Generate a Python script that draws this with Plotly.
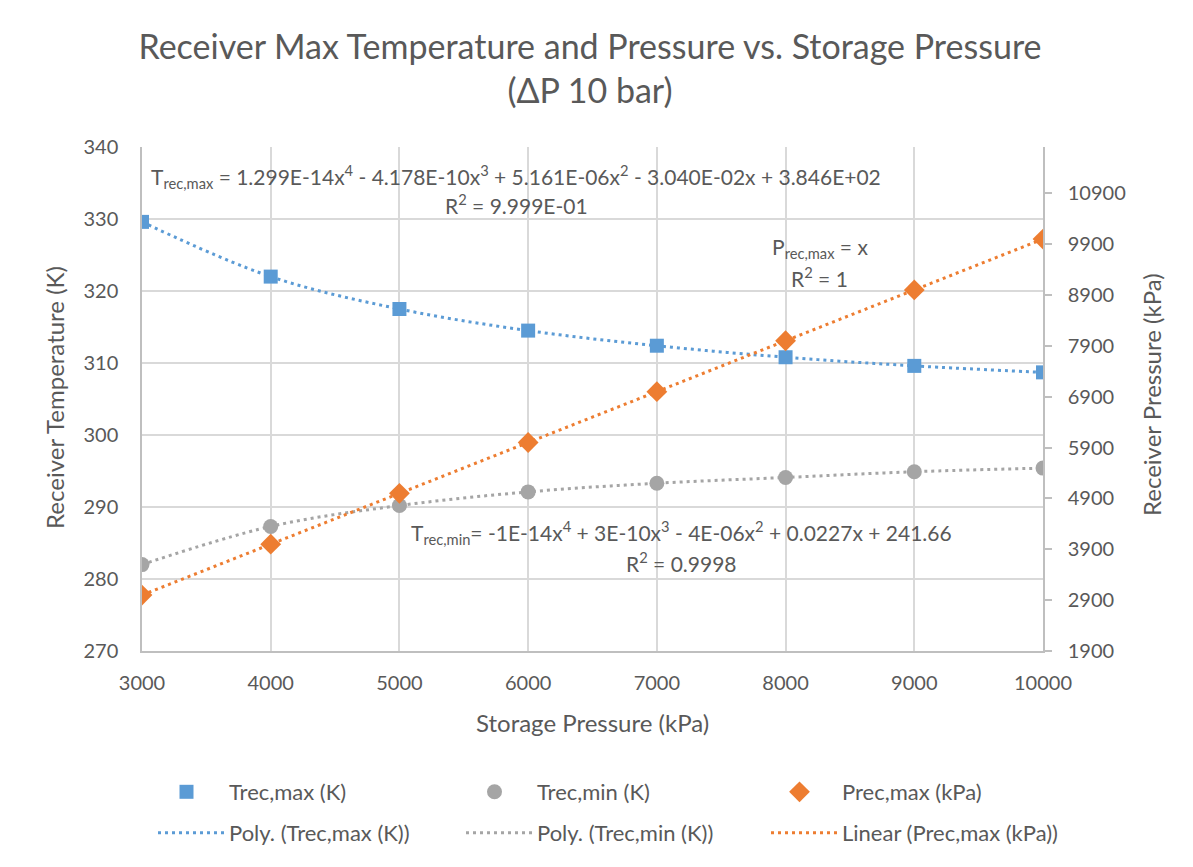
import plotly.graph_objects as go

# data
storage_p = [3000, 4000, 5000, 6000, 7000, 8000, 9000, 10000]
trec_max = [329.6, 322.0, 317.5, 314.5, 312.4, 310.8, 309.6, 308.7]
trec_min = [282.0, 287.3, 290.2, 292.1, 293.3, 294.1, 294.9, 295.4]
prec_max = [3000, 4000, 5000, 6000, 7000, 8000, 9000, 10000]

BLUE = "#5B9BD5"
GREY = "#A5A5A5"
ORANGE = "#ED7D31"
TXT = "#595959"
FONT = "Lato"

# page body has an 8px margin, so keep the figure inside the window
W, H = 1185, 859
L, T, R, B = 134, 139, 150, 216

fig = go.Figure()

# trendlines (dotted) first so the markers sit on top
fig.add_trace(go.Scatter(
    x=storage_p, y=trec_max, mode="lines", name="Poly. (Trec,max (K))",
    line=dict(color=BLUE, width=3, dash="3px,4px", shape="spline"),
    legend="legend4",
))
fig.add_trace(go.Scatter(
    x=storage_p, y=trec_min, mode="lines", name="Poly. (Trec,min (K))",
    line=dict(color=GREY, width=3, dash="3px,4px", shape="spline"),
    legend="legend5",
))
fig.add_trace(go.Scatter(
    x=storage_p, y=prec_max, mode="lines", name="Linear (Prec,max (kPa))",
    line=dict(color=ORANGE, width=3, dash="3px,4px"),
    yaxis="y2", legend="legend6",
))

# markers
fig.add_trace(go.Scatter(
    x=storage_p, y=trec_max, mode="markers", name="Trec,max (K)",
    marker=dict(symbol="square", size=14, color=BLUE),
    legend="legend",
))
fig.add_trace(go.Scatter(
    x=storage_p, y=trec_min, mode="markers", name="Trec,min (K)",
    marker=dict(symbol="circle", size=15, color=GREY),
    legend="legend2",
))
fig.add_trace(go.Scatter(
    x=storage_p, y=prec_max, mode="markers", name="Prec,max (kPa)",
    marker=dict(symbol="diamond", size=16, color=ORANGE),
    yaxis="y2", legend="legend3",
))


def leg(xpx, ypx, iw):
    return dict(
        xref="container", yref="container",
        x=xpx / W, y=1 - ypx / H, xanchor="left", yanchor="middle",
        font=dict(family=FONT, size=22, color=TXT),
        bgcolor="rgba(0,0,0,0)", itemwidth=iw,
    )


eq_font = dict(family=FONT, size=21, color=TXT)
ax_font = dict(family=FONT, size=24, color=TXT)
tick_font = dict(family=FONT, size=20, color=TXT)


def eq(x, y, text):
    return dict(x=x, y=y, xref="x", yref="y", showarrow=False,
                text=text, font=eq_font, xanchor="center", yanchor="middle")


fig.update_layout(
    width=W, height=H,
    paper_bgcolor="white", plot_bgcolor="white",
    margin=dict(l=L, r=R, t=T, b=B, autoexpand=False),
    showlegend=True,
    title=dict(
        text="Receiver Max Temperature and Pressure vs. Storage Pressure<br>(ΔP 10 bar)",
        x=582 / W, xref="container", xanchor="center",
        y=1 - 51 / H, yanchor="top",
        font=dict(family=FONT, size=34, color=TXT),
    ),
    xaxis=dict(
        range=[3000, 10000], tickmode="linear", tick0=3000, dtick=1000,
        tickformat="d",
        showgrid=True, gridcolor="#D9D9D9", gridwidth=1.5,
        showline=True, linecolor="#BFBFBF", linewidth=1.5,
        ticks="", zeroline=False,
        tickfont=tick_font, ticklabelstandoff=13,
    ),
    yaxis=dict(
        range=[270, 340], tickmode="linear", tick0=270, dtick=10,
        showgrid=True, gridcolor="#D9D9D9", gridwidth=1.5,
        showline=True, linecolor="#BFBFBF", linewidth=1.5,
        ticks="", zeroline=False,
        tickfont=tick_font, ticklabelstandoff=18,
    ),
    yaxis2=dict(
        overlaying="y", side="right",
        range=[1900, 11810], tickmode="linear", tick0=1900, dtick=1000,
        tickformat="d",
        showgrid=False, zeroline=False,
        showline=True, linecolor="#BFBFBF", linewidth=1.5,
        ticks="outside", ticklen=7, tickcolor="#BFBFBF", tickwidth=1.5,
        tickfont=tick_font, ticklabelstandoff=12,
    ),
    legend=leg(136, 784, 75),
    legend2=leg(444, 784, 75),
    legend3=leg(749, 784, 75),
    legend4=leg(145, 825, 66),
    legend5=leg(453, 825, 66),
    legend6=leg(758, 825, 66),
    annotations=[
        # axis titles
        dict(x=-0.0966, y=0.504, xref="paper", yref="paper", showarrow=False,
             text="Receiver Temperature (K)", textangle=-90, font=ax_font,
             xanchor="center", yanchor="middle"),
        dict(x=1.121, y=0.508, xref="paper", yref="paper", showarrow=False,
             text="Receiver Pressure (kPa)", textangle=-90, font=ax_font,
             xanchor="center", yanchor="middle"),
        dict(x=0.5, y=-0.141, xref="paper", yref="paper", showarrow=False,
             text="Storage Pressure (kPa)", font=ax_font,
             xanchor="center", yanchor="middle"),
        # trendline equations
        eq(5906, 335.9, "T<sub>rec,max</sub> = 1.299E-14x<sup>4</sup> - 4.178E-10x<sup>3</sup> + 5.161E-06x<sup>2</sup> - 3.040E-02x + 3.846E+02"),
        eq(5906, 332.1, "R<sup>2</sup> = 9.999E-01"),
        eq(8267, 326.0, "P<sub>rec,max</sub> = x"),
        eq(8267, 321.9, "R<sup>2</sup> = 1"),
        eq(7195, 286.5, "T<sub>rec,min</sub>= -1E-14x<sup>4</sup> + 3E-10x<sup>3</sup> - 4E-06x<sup>2</sup> + 0.0227x + 241.66"),
        eq(7195, 282.3, "R<sup>2</sup> = 0.9998"),
    ],
)

fig.write_html("out.html")
